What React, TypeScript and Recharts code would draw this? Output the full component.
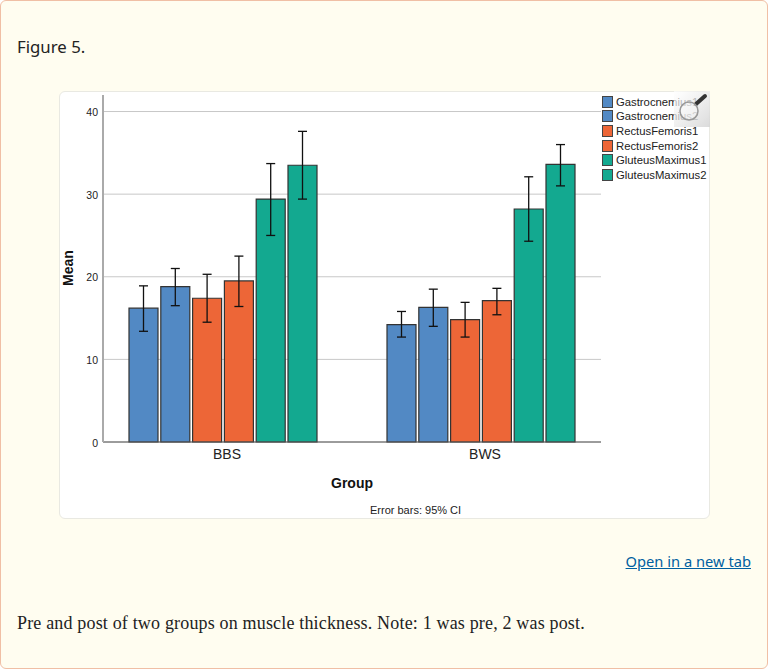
import React from "react";
import { BarChart, Bar, XAxis, YAxis, CartesianGrid, ErrorBar } from "recharts";

const groups = ["BBS", "BWS"];
const muscles = [
  "Gastrocnemius1",
  "Gastrocnemius2",
  "RectusFemoris1",
  "RectusFemoris2",
  "GluteusMaximus1",
  "GluteusMaximus2",
];
const colors = ["#5289c4", "#5289c4", "#ed6637", "#ed6637", "#13a990", "#13a990"];
const bbsMeans = [16.2, 18.8, 17.4, 19.5, 29.4, 33.5];
const bwsMeans = [14.2, 16.3, 14.8, 17.1, 28.2, 33.6];
const bbsLow = [13.4, 16.5, 14.5, 16.4, 25.0, 29.4];
const bbsHigh = [18.9, 21.0, 20.3, 22.5, 33.7, 37.6];
const bwsLow = [12.7, 14.0, 12.7, 15.4, 24.3, 31.0];
const bwsHigh = [15.8, 18.5, 16.9, 18.6, 32.1, 36.0];
const yTicks = [0, 10, 20, 30, 40];

const data = groups.map((group, g) => {
  const means = g === 0 ? bbsMeans : bwsMeans;
  const low = g === 0 ? bbsLow : bwsLow;
  const high = g === 0 ? bbsHigh : bwsHigh;
  const row: any = { group };
  muscles.forEach((m, i) => {
    row[m] = means[i];
    row[m + "_err"] = [means[i] - low[i], high[i] - means[i]];
  });
  return row;
});

const sans = "'Liberation Sans', Arial, sans-serif";

const GroupTick = ({ x, y, payload }: any) => (
  <text x={x + 4} y={y + 9} textAnchor="middle" fontFamily={sans} fontSize={14} fill="#222">
    {payload.value}
  </text>
);

const ValueTick = ({ x, y, payload }: any) => (
  <text x={x + 1} y={y + 4.5} textAnchor="end" fontFamily={sans} fontSize={10.5} fill="#222">
    {payload.value}
  </text>
);

const LegendList = () => (
  <div
    style={{
      position: "absolute",
      left: 542,
      top: 2.5,
      fontFamily: sans,
      fontSize: 11.3,
      color: "#222",
      whiteSpace: "nowrap",
    }}
  >
    {muscles.map((m, i) => (
      <div key={m} style={{ display: "flex", alignItems: "center", height: 14.6 }}>
        <span
          style={{
            width: 9,
            height: 10,
            marginRight: 3,
            background: colors[i],
            border: "1px solid #444",
          }}
        />
        {m}
      </div>
    ))}
  </div>
);

// zoom badge sitting on the corner of the figure
const ZoomBadge = () => (
  <svg width={36} height={36} style={{ position: "absolute", left: 673, top: 90 }}>
    <defs>
      <linearGradient id="badge" x1="0" y1="0" x2="1" y2="1">
        <stop offset="0" stopColor="#ffffff" stopOpacity={0.65} />
        <stop offset="1" stopColor="#d4d4d4" stopOpacity={0.85} />
      </linearGradient>
    </defs>
    <rect width={36} height={36} fill="url(#badge)" />
    <line x1={22} y1={13} x2={31} y2={5} stroke="#333" strokeWidth={4} strokeLinecap="round" />
    <circle cx={15} cy={20} r={9} fill="#ffffff" fillOpacity={0.3} stroke="#999" strokeWidth={1.5} />
  </svg>
);

export default function App() {
  return (
    <div
      style={{
        position: "absolute",
        left: 0,
        top: 0,
        width: 766,
        height: 667,
        background: "#fffdf0",
        border: "1px solid #f0bfa5",
        borderRadius: 6,
      }}
    >
      <div
        style={{
          position: "absolute",
          left: 16,
          top: 34,
          fontFamily: "'Noto Sans', sans-serif",
          fontSize: 16.8,
          color: "#222",
        }}
      >
        Figure 5.
      </div>

      <div
        style={{
          position: "absolute",
          left: 58,
          top: 90,
          width: 649,
          height: 426,
          background: "#fff",
          border: "1px solid #e9e9e2",
          borderRadius: 6,
        }}
      >
        <BarChart
          width={649}
          height={426}
          data={data}
          barSize={29}
          barGap={2.8}
          margin={{ top: 3, right: 108, bottom: 46, left: 13 }}
        >
          <CartesianGrid horizontal vertical={false} syncWithTicks stroke="#c8c8c8" strokeWidth={1} />
          <XAxis
            dataKey="group"
            padding={{ left: -9, right: -9 }}
            tick={<GroupTick />}
            tickLine={false}
            axisLine={{ stroke: "#555", strokeWidth: 1 }}
            height={30}
          />
          <YAxis
            width={30}
            domain={[0, 42]}
            ticks={yTicks}
            tick={<ValueTick />}
            tickLine={false}
            tickSize={4}
            axisLine={{ stroke: "#aaa", strokeWidth: 2 }}
          />
          {muscles.map((m, i) => (
            <Bar
              key={m}
              dataKey={m}
              fill={colors[i]}
              stroke="#333"
              strokeWidth={1.2}
              isAnimationActive={false}
            >
              <ErrorBar
                dataKey={m + "_err"}
                width={4.5}
                stroke="#111"
                strokeWidth={1.3}
                isAnimationActive={false}
              />
            </Bar>
          ))}
        </BarChart>

        <LegendList />

        <div style={{ position: "absolute", left: 0, top: 0, pointerEvents: "none" }}>
          <div
            style={{
              position: "absolute",
              left: 271,
              top: 383,
              fontFamily: sans,
              fontSize: 14,
              fontWeight: 700,
              color: "#111",
              whiteSpace: "nowrap",
            }}
          >
            Group
          </div>
          <div
            style={{
              position: "absolute",
              left: 310,
              top: 412,
              fontFamily: sans,
              fontSize: 11,
              color: "#222",
              whiteSpace: "nowrap",
            }}
          >
            Error bars: 95% CI
          </div>
          <div
            style={{
              position: "absolute",
              left: -17,
              top: 168,
              width: 50,
              textAlign: "center",
              transform: "rotate(-90deg)",
              fontFamily: sans,
              fontSize: 14,
              fontWeight: 700,
              color: "#111",
            }}
          >
            Mean
          </div>
        </div>
      </div>

      <ZoomBadge />

      <a
        href="#"
        style={{
          position: "absolute",
          right: 16,
          top: 550,
          fontFamily: "'Noto Sans', sans-serif",
          fontSize: 14.7,
          color: "#0060a0",
        }}
      >
        Open in a new tab
      </a>

      <div
        style={{
          position: "absolute",
          left: 16,
          top: 612,
          fontFamily: "'Liberation Serif', serif",
          fontSize: 18,
          letterSpacing: 0.17,
          color: "#222",
          whiteSpace: "nowrap",
        }}
      >
        Pre and post of two groups on muscle thickness. Note: 1 was pre, 2 was post.
      </div>
    </div>
  );
}
